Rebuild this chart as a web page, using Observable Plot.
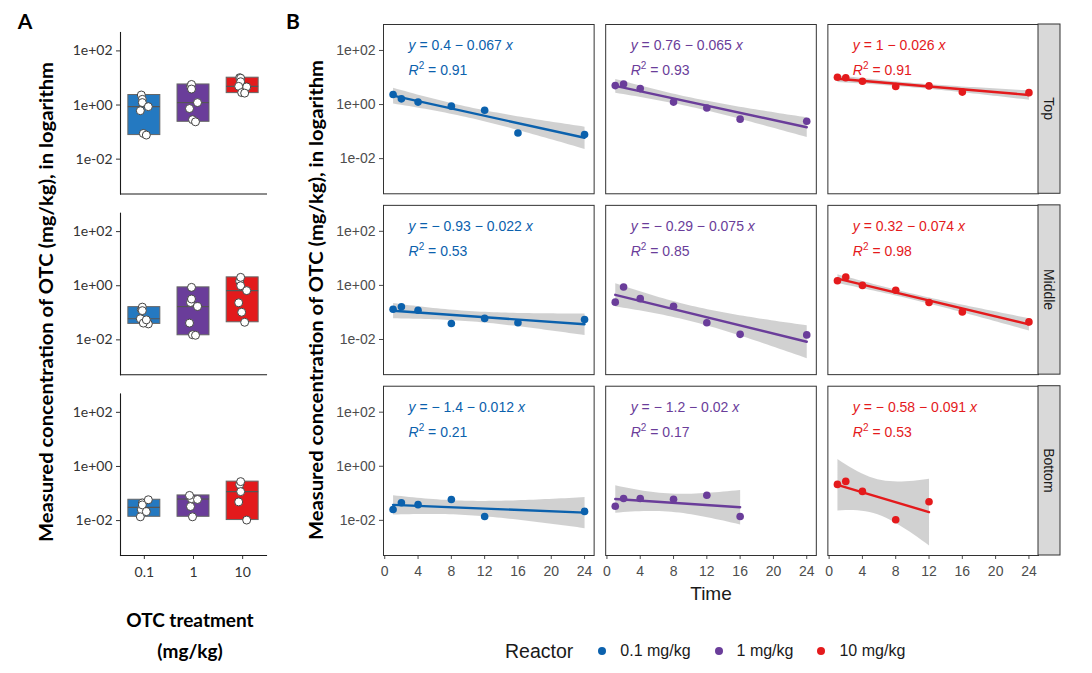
<!DOCTYPE html>
<html><head><meta charset="utf-8">
<script src="https://cdn.jsdelivr.net/npm/d3@7"></script>
<script src="https://cdn.jsdelivr.net/npm/@observablehq/plot@0.6"></script>
<style>
body{margin:0;background:#fff;}
#wrap{position:relative;width:1092px;height:673px;overflow:hidden;background:#fff;}
#wrap > svg, #wrap > div{position:absolute;}
.leg{display:flex;align-items:center;font-family:"Liberation Sans",Arial,sans-serif;color:#1a1a1a;}
.leg .ttl{font-size:19.5px;margin-right:25px;}
.leg .sw{width:8px;height:8px;border-radius:50%;margin-right:14px;}
.leg .lab{font-size:16px;margin-right:24px;}
</style></head><body><div id="wrap"></div>
<script>
// ---------- data ----------
const reactors = ["0.1 mg/kg", "1 mg/kg", "10 mg/kg"];
const doses = ["0.1", "1", "10"];
const depths = ["Top", "Middle", "Bottom"];
const times = [1, 2, 4, 8, 12, 16, 24];
// log10 of measured OTC concentration (mg/kg), one value per time point (null = not measured)
const topLow    = [0.37, 0.21, 0.09, -0.06, -0.21, -1.05, -1.11];
const topMid    = [0.70, 0.76, 0.59, 0.09, -0.13, -0.54, -0.62];
const topHigh   = [1.01, 0.99, 0.86, 0.67, 0.69, 0.46, 0.44];
const middleLow = [-0.88, -0.79, -0.92, -1.41, -1.22, -1.38, -1.26];
const middleMid = [-0.62, -0.06, -0.49, -0.77, -1.38, -1.81, -1.83];
const middleHigh= [0.17, 0.31, 0.00, -0.18, -0.63, -0.98, -1.35];
const bottomLow = [-1.60, -1.35, -1.42, -1.23, -1.86, null, -1.67];
const bottomMid = [-1.48, -1.19, -1.19, -1.22, -1.07, -1.86, null];
const bottomHigh= [-0.67, -0.56, -0.93, -1.98, -1.31, null, null];
// fitted equations as printed on the panels (rows: Top, Middle, Bottom; columns: reactors)
const equations = [
  "y = 0.4 \u2212 0.067 x", "y = 0.76 \u2212 0.065 x", "y = 1 \u2212 0.026 x",
  "y = \u2212 0.93 \u2212 0.022 x", "y = \u2212 0.29 \u2212 0.075 x", "y = 0.32 \u2212 0.074 x",
  "y = \u2212 1.4 \u2212 0.012 x", "y = \u2212 1.2 \u2212 0.02 x", "y = \u2212 0.58 \u2212 0.091 x"
];
const rSquared = ["0.91", "0.93", "0.91", "0.53", "0.85", "0.98", "0.21", "0.17", "0.53"];
const yTicks = [-2, 0, 2];
const xTicks = [0, 4, 8, 12, 16, 20, 24];

// ---------- styles ----------
const colorsA = ["#2479c1", "#6a3d9a", "#e31a1c"];
const colorsB = ["#0b61ad", "#6a3d9a", "#e41a1c"];
const jitter = [-3, -2, -2, 4, -4, -1, 2];

// ---------- tables ----------
const seriesByDepth = {
  Top: [topLow, topMid, topHigh],
  Middle: [middleLow, middleMid, middleHigh],
  Bottom: [bottomLow, bottomMid, bottomHigh]
};
const rows = [];
depths.forEach(depth => {
  seriesByDepth[depth].forEach((vals, j) => {
    vals.forEach((v, i) => {
      if (v != null) rows.push({depth, reactor: reactors[j], dose: doses[j], t: times[i], ti: i, v});
    });
  });
});
const eqs = [];
depths.forEach((depth, k) => reactors.forEach((reactor, j) => {
  eqs.push({depth, reactor, eq: equations[k * 3 + j], r2: "R2 = " + rSquared[k * 3 + j]});
}));

const fmt = d => "1e" + (d < 0 ? "-" : "+") + String(Math.abs(d)).padStart(2, "0");
const wrap = document.getElementById("wrap");

// ---------- panel A ----------
const plotA = Plot.plot({
  width: 290, height: 610,
  marginLeft: 120, marginRight: 24, marginTop: 32, marginBottom: 55,
  style: {fontFamily: "Lato, 'Open Sans', sans-serif", fontSize: "14px", color: "#333", background: "transparent"},
  fy: {domain: depths, axis: null, paddingInner: 0.106, paddingOuter: 0, round: false},
  x: {domain: doses, paddingInner: 0.35, paddingOuter: 0.16, label: null, tickSize: 4, tickPadding: 8, round: false},
  y: {domain: [-3.29, 2.68], ticks: yTicks, tickFormat: fmt, label: null, tickSize: 4, tickPadding: 4},
  color: {domain: doses, range: colorsA},
  marks: [
    Plot.frame({anchor: "left", stroke: "#1a1a1a", strokeWidth: 1.1}),
    Plot.frame({anchor: "bottom", stroke: "#1a1a1a", strokeWidth: 1.1}),
    Plot.barY(rows, Plot.groupX({y1: "min", y2: "max"}, {x: "dose", y1: "v", y2: "v", fy: "depth", fill: "dose", stroke: "#666", strokeWidth: 1})),
    Plot.tickY(rows, Plot.groupX({y: "median"}, {x: "dose", y: "v", fy: "depth", stroke: "#555", strokeWidth: 1.2})),
    ...jitter.map((dx, k) => Plot.dot(rows, {filter: d => d.ti === k, x: "dose", y: "v", fy: "depth", dx, r: 4, fill: "white", stroke: "#444", strokeWidth: 1}))
  ]
});
plotA.style.left = "0px"; plotA.style.top = "0px";
wrap.appendChild(plotA);

// ---------- panel B ----------
const plotB = Plot.plot({
  width: 790, height: 610,
  marginLeft: 93, marginRight: 42, marginTop: 24, marginBottom: 55,
  style: {fontFamily: "'Liberation Sans', Arial, sans-serif", fontSize: "14px", color: "#4d4d4d", background: "transparent"},
  fx: {domain: reactors, axis: null, paddingInner: 0.052, paddingOuter: 0, round: false},
  fy: {domain: depths, axis: null, paddingInner: 0.064, paddingOuter: 0, round: false},
  x: {domain: [-0.15, 25.15], ticks: xTicks, label: null, tickSize: 4, tickPadding: 7},
  y: {domain: [-3.3, 2.96], ticks: yTicks, tickFormat: fmt, label: null, tickSize: 4, tickPadding: 4},
  color: {domain: reactors, range: colorsB},
  marks: [
    Plot.linearRegressionY(rows, {x: "t", y: "v", fx: "reactor", fy: "depth", stroke: "reactor", fill: "#9a9a9a", fillOpacity: 0.45, strokeWidth: 2.4, ci: 0.95}),
    Plot.dot(rows, {x: "t", y: "v", fx: "reactor", fy: "depth", fill: "reactor", r: 3.8}),
    Plot.text(eqs, {text: "eq", fx: "reactor", fy: "depth", fill: "reactor", frameAnchor: "top-left", lineAnchor: "middle", textAnchor: "start", dx: 25, dy: 21, fontSize: 14}),
    Plot.text(eqs, {text: "r2", fx: "reactor", fy: "depth", fill: "reactor", frameAnchor: "top-left", lineAnchor: "middle", textAnchor: "start", dx: 25, dy: 46, fontSize: 14}),
    Plot.frame({stroke: "#333", strokeWidth: 1})
  ]
});
plotB.style.left = "290px"; plotB.style.top = "0px";
wrap.appendChild(plotB);

// italic / superscript formatting of the equation labels
d3.select(plotB).selectAll("text").each(function () {
  const s = this.textContent;
  const t = d3.select(this);
  if (s.startsWith("y = ")) {
    t.text(null);
    t.append("tspan").attr("font-style", "italic").text("y");
    t.append("tspan").text(s.slice(1, -1));
    t.append("tspan").attr("font-style", "italic").text("x");
  } else if (s.startsWith("R2 = ")) {
    t.text(null);
    t.append("tspan").attr("font-style", "italic").text("R");
    t.append("tspan").attr("font-size", 10).attr("dy", -6).text("2");
    t.append("tspan").attr("dy", 6).text(s.slice(2));
  }
});

// facet strips on the right, from the fy scale
const fy = plotB.scale("fy");
const stripX = 790 - 42;
const strips = d3.select(plotB).append("g");
depths.forEach(d => {
  const y0 = fy.apply(d);
  strips.append("rect").attr("x", stripX).attr("y", y0).attr("width", 22).attr("height", fy.bandwidth)
    .attr("fill", "#d9d9d9").attr("stroke", "#333").attr("stroke-width", 1);
  strips.append("text").attr("transform", `translate(${stripX + 11},${y0 + fy.bandwidth / 2}) rotate(90)`)
    .attr("text-anchor", "middle").attr("dominant-baseline", "central")
    .attr("font-size", 14).attr("fill", "#1a1a1a").text(d);
});

// ---------- titles & labels ----------
const ov = d3.select(wrap).append("svg").attr("width", 1092).attr("height", 673)
  .style("left", "0px").style("top", "0px").style("pointer-events", "none");
const bold = "Lato, 'Open Sans', sans-serif";
ov.append("text").attr("x", 25).attr("y", 20).attr("text-anchor", "middle").attr("dominant-baseline", "central")
  .attr("font-family", bold).attr("font-weight", 700).attr("font-size", 21).attr("fill", "#000").text("A");
ov.append("text").attr("x", 293).attr("y", 20).attr("text-anchor", "middle").attr("dominant-baseline", "central")
  .attr("font-family", bold).attr("font-weight", 700).attr("font-size", 21).attr("fill", "#000").text("B");
const yTitle = "Measured concentration of OTC (mg/kg), in logarithm";
[[45, 302], [315, 300]].forEach(([x, y]) => {
  ov.append("text").attr("transform", `translate(${x},${y}) rotate(-90)`).attr("text-anchor", "middle")
    .attr("dominant-baseline", "central").attr("font-family", bold).attr("font-weight", 700)
    .attr("font-size", 19).attr("fill", "#000").attr("textLength", 480).attr("lengthAdjust", "spacingAndGlyphs").text(yTitle);
});
ov.append("text").attr("x", 190).attr("y", 619).attr("text-anchor", "middle").attr("dominant-baseline", "central")
  .attr("font-family", bold).attr("font-weight", 700).attr("font-size", 19).attr("fill", "#000").text("OTC treatment");
ov.append("text").attr("x", 190).attr("y", 650).attr("text-anchor", "middle").attr("dominant-baseline", "central")
  .attr("font-family", bold).attr("font-weight", 700).attr("font-size", 19).attr("fill", "#000").text("(mg/kg)");
ov.append("text").attr("x", 711).attr("y", 593).attr("text-anchor", "middle").attr("dominant-baseline", "central")
  .attr("font-family", "'Liberation Sans', Arial, sans-serif").attr("font-size", 19).attr("fill", "#1a1a1a").text("Time");

// ---------- legend ----------
const leg = document.createElement("div");
leg.className = "leg";
leg.style.left = "505px"; leg.style.top = "639px"; leg.style.height = "24px";
leg.innerHTML = `<span class="ttl">Reactor</span>` + reactors.map((r, i) =>
  `<span class="sw" style="background:${colorsB[i]}"></span><span class="lab">${r}</span>`).join("");
wrap.appendChild(leg);
</script></body></html>
